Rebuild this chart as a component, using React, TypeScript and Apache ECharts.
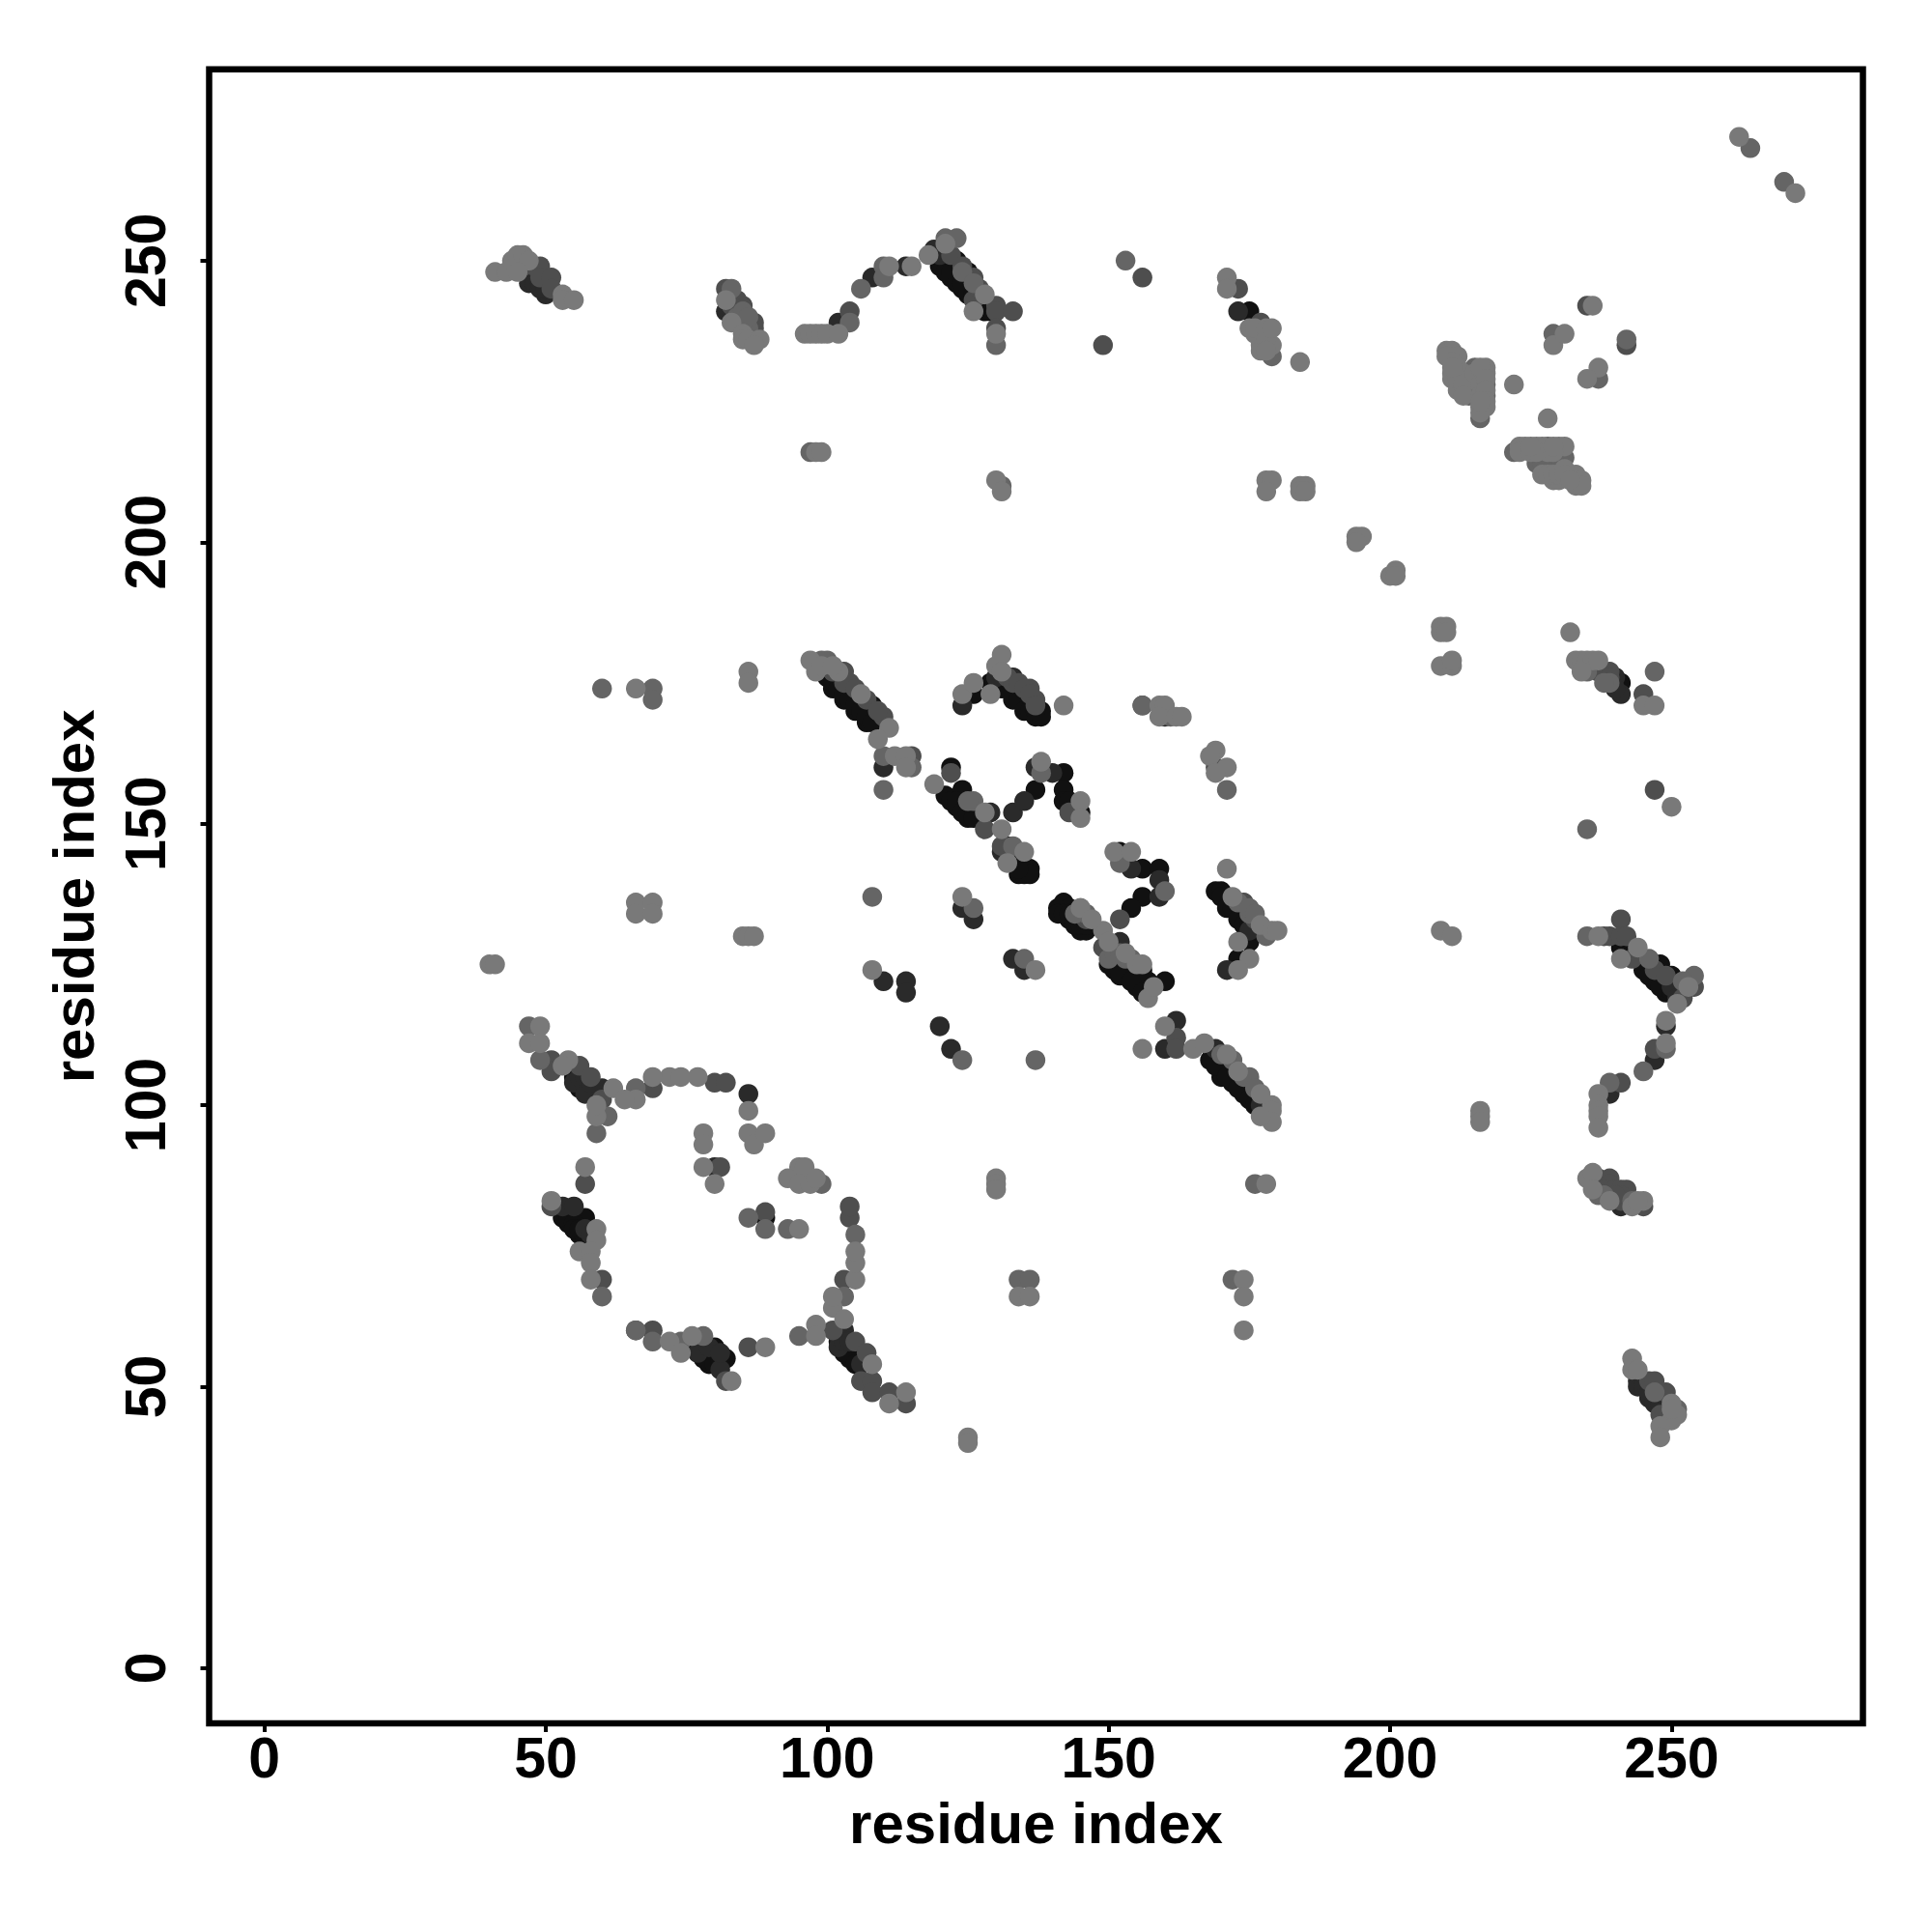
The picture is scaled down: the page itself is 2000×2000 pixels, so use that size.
import React, { useEffect, useRef } from "react";
import * as echarts from "echarts";

const tickValues = [0, 50, 100, 150, 200, 250];
const axisLabelText = "residue index";

const shadeBlack = [[54,79],[57,80],[56,77],[82,55],[80,57],[79,54],[104,55],[101,174],[103,172],[105,170],[107,168],[108,171],[126,173],[133,173],[135,171],[137,169],[138,170],[138,169],[129,175],[122,160],[121,155],[123,153],[125,151],[124,156],[137,156],[142,159],[142,156],[142,154],[143,154],[145,152],[132,146],[134,143],[136,142],[134,141],[135,141],[152,145],[156,142],[159,142],[156,137],[154,135],[141,135],[142,136],[141,134],[143,135],[143,133],[145,131],[144,132],[146,131],[150,125],[153,123],[156,124],[155,121],[157,122],[160,122],[168,108],[171,108],[170,105],[172,104],[174,102],[169,138],[170,138],[171,136],[173,134],[175,129],[173,126],[175,241],[120,249],[122,247],[123,250],[124,245],[125,248],[128,241],[241,175],[241,128],[243,128],[245,126],[245,124],[248,125],[247,122],[250,123],[249,120],[89,80],
[100,176],[101,175],[102,174],[103,173],[104,172],[105,171],[106,170],[107,169],[108,168],[130,175],[131,174],[132,174],[133,172],[134,172],[135,170],[136,170],[137,170],[122,154],[123,154],[124,152],[125,152],[126,151],[132,145],[133,144],[133,145],[135,142],[136,141],[134,142],[142,134],[143,134],[144,133],[145,132],[146,132],[151,124],[152,123],[154,122],[156,120],[169,107],[171,105],[173,103],[175,101],[176,100],[170,137],[171,135],[172,135],[173,133],[174,132],[175,132],[176,131],[53,80],[54,80],[55,79],[55,78],[56,78],[57,76],[55,105],[56,103],[57,103],[58,102],[77,57],[78,56],[78,55],[79,55],[80,54],[81,54],[81,55],[102,58],[103,56],[104,56],[105,54],[121,248],[122,248],[123,246],[124,246],[125,244],[126,244],[127,243],[128,242],[129,241],[244,126],[246,125],[246,123],[248,123],[248,121],[250,120]];
const shadeDark = [[55,104],[57,102],[60,103],[86,102],[80,89],[53,82],[55,82],[77,56],[81,53],[103,60],[102,57],[120,114],[122,110],[110,160],[124,171],[130,176],[133,176],[129,152],[133,152],[135,154],[137,160],[140,159],[131,145],[154,142],[159,140],[159,137],[124,135],[126,133],[110,122],[114,122],[114,120],[133,126],[135,124],[152,129],[160,110],[162,115],[169,110],[175,131],[171,124],[47,246],[50,244],[46,248],[82,241],[85,239],[102,239],[108,247],[114,249],[119,252],[120,251],[173,241],[241,173],[249,114],[247,108],[239,102],[238,86],[241,82],[244,51],[244,50],[246,48],[249,47],[251,121],[250,121],[160,169],
[57,78],[58,77],[56,105],[57,105],[58,104],[79,57],[81,56],[102,59],[103,58],[104,58],[106,54],[47,247],[48,247],[48,246],[49,245],[49,246],[50,245],[245,50],[245,51],[246,49],[247,48],[247,47],[248,47],[240,176],[240,174],[178,99],[177,100],[251,119]];
const shadeMidDark = [[51,108],[51,106],[56,107],[58,105],[60,101],[69,103],[80,104],[82,104],[81,89],[57,86],[51,82],[60,69],[66,60],[69,60],[82,51],[86,57],[101,60],[105,58],[107,56],[106,51],[108,51],[108,49],[111,49],[114,47],[103,69],[104,80],[104,82],[89,81],[110,169],[104,175],[115,162],[136,174],[137,172],[122,159],[128,149],[131,146],[143,152],[152,133],[146,133],[149,128],[162,112],[162,110],[174,136],[176,133],[173,245],[177,239],[46,249],[48,249],[49,249],[49,247],[51,247],[51,245],[82,245],[85,242],[84,241],[87,239],[87,237],[104,241],[122,251],[126,243],[130,242],[130,241],[130,238],[133,241],[156,247],[149,235],[235,242],[169,160],[156,171],[245,173],[238,177],[239,177],[237,177],[247,156],[241,133],[238,130],[239,130],[241,130],[242,130],[243,126],[247,124],[252,119],[254,121],[247,110],[241,104],[237,87],[237,86],[239,87],[239,86],[238,85],[240,85],[241,85],[242,85],[242,83],[245,82],[246,51],[247,51],[249,49],[248,45],[214,228],[215,227],[226,215],[228,215],[228,213],[242,235],
[101,177],[103,177],[103,175],[105,174],[107,172],[109,170],[132,176],[133,175],[134,175],[135,174],[136,173],[137,171],[124,249],[126,247],[127,245],[87,238],[84,243],[83,242],[241,84],[241,83],[240,84],[249,123],[239,176]];
const shadeMid = [[47,114],[49,108],[59,95],[66,103],[61,98],[86,80],[89,78],[66,60],[69,58],[74,58],[60,66],[78,59],[95,59],[103,66],[99,86],[93,78],[105,77],[97,216],[100,179],[99,179],[104,239],[106,245],[110,249],[110,247],[121,254],[123,254],[124,248],[126,246],[130,235],[110,162],[108,137],[110,156],[115,160],[126,154],[125,154],[126,135],[135,126],[133,146],[138,159],[145,135],[154,126],[153,126],[161,169],[160,138],[152,143],[175,134],[178,130],[171,156],[156,171],[131,210],[179,233],[229,237],[242,236],[237,229],[215,231],[215,229],[217,228],[217,226],[216,222],[215,228],[214,226],[222,216],[228,217],[231,215],[226,214],[230,213],[235,130],[246,126],[254,123],[247,177],[239,175],[238,175],[235,177],[249,110],[245,106],[239,104],[251,46],[247,49],[264,270],[270,264],[60,174],[69,174],[69,172],[153,250],[235,149],[176,86],[172,69],[134,69],[136,69],[137,108],[124,108],[83,245],
[170,109],[172,108],[174,105],[175,105],[176,103],[173,136],[175,135],[176,134],[150,126],[151,127],[152,127],[144,134],[146,134],[214,230],[216,229],[216,227],[227,216],[229,215],[229,214],[227,214],[237,84],[238,84],[243,83],[84,240],[85,241],[86,238],[86,240],[252,122]];
const shadeSoft = [[47,111],[49,114],[49,111],[54,108],[59,98],[66,101],[62,103],[64,101],[53,107],[57,89],[78,95],[78,93],[78,89],[80,86],[72,105],[74,105],[69,105],[77,105],[86,99],[86,95],[87,93],[89,95],[59,100],[51,83],[59,78],[59,76],[56,74],[58,74],[58,72],[58,69],[72,58],[74,56],[76,59],[89,57],[98,61],[98,59],[101,64],[101,66],[103,62],[108,54],[83,51],[105,69],[105,72],[105,74],[95,89],[96,89],[93,87],[95,86],[97,86],[98,87],[95,78],[114,49],[111,47],[41,248],[43,248],[44,250],[45,251],[46,251],[47,250],[45,248],[53,244],[53,243],[55,243],[82,243],[83,239],[85,237],[85,236],[86,236],[88,236],[87,235],[96,237],[97,237],[98,237],[99,237],[100,237],[102,237],[111,249],[115,249],[118,251],[121,253],[126,241],[128,244],[130,237],[98,216],[99,216],[130,211],[131,209],[171,247],[171,245],[175,238],[179,235],[177,235],[177,234],[184,232],[178,211],[179,211],[178,209],[184,210],[185,210],[184,209],[185,209],[194,201],[195,201],[194,200],[200,194],[201,195],[201,194],[209,185],[210,185],[209,184],[210,184],[232,184],[229,235],[231,237],[237,231],[235,229],[222,228],[228,222],[210,234],[211,234],[210,233],[212,233],[211,230],[211,229],[212,227],[213,230],[217,231],[217,230],[216,224],[217,224],[216,223],[223,217],[224,217],[223,216],[226,217],[227,217],[230,217],[231,217],[227,212],[229,211],[230,211],[233,212],[233,210],[234,211],[234,210],[209,178],[211,178],[211,179],[97,179],[98,177],[102,177],[106,173],[111,167],[109,165],[112,162],[114,162],[114,160],[124,173],[126,175],[129,173],[130,178],[131,180],[131,177],[142,171],[119,157],[128,152],[131,149],[135,145],[132,143],[138,161],[145,154],[145,151],[151,145],[154,145],[124,137],[108,124],[137,124],[145,135],[149,131],[150,129],[157,119],[158,121],[156,110],[160,114],[165,110],[167,111],[173,106],[177,102],[179,100],[179,99],[179,97],[177,98],[172,137],[177,132],[179,131],[180,131],[173,129],[175,126],[173,124],[171,142],[169,163],[168,162],[171,160],[169,159],[159,171],[160,171],[159,169],[162,169],[163,169],[233,179],[234,179],[235,179],[236,179],[237,179],[234,177],[245,171],[247,171],[250,153],[237,130],[241,126],[244,128],[251,118],[253,121],[249,115],[249,111],[237,102],[237,100],[237,99],[237,98],[237,96],[235,87],[236,88],[236,85],[239,83],[243,82],[245,83],[243,55],[243,53],[244,53],[250,47],[251,45],[250,44],[248,43],[248,41],[262,272],[272,262],[125,41],[125,40],[130,87],[130,86],[130,85],[178,86],[134,66],[136,66],[174,69],[174,66],[174,60],[216,99],[216,98],[216,97],[209,131],[211,130],[40,125],[41,125],[66,174],[86,177],[86,175],[66,136],[69,136],[66,134],[69,134],[85,130],[86,130],[87,130],[236,242],
[212,231],[212,229],[213,228],[213,226],[215,230],[216,231],[216,228],[216,226],[217,229],[217,227],[217,225],[216,225],[211,232],[211,231],[225,216],[226,216],[228,216],[229,216],[228,212],[229,212],[230,212],[231,213],[231,212],[232,211],[225,217],[229,217],[176,237],[176,238],[178,238],[178,236],[178,234],[179,238],[244,83],[99,178],[101,178],[171,109],[153,127],[155,125],[156,125],[147,133],[250,46]];

const groups: [number[][], string][] = [
  [shadeBlack, "#111111"],
  [shadeDark, "#2a2a2a"],
  [shadeMidDark, "#4e4e4e"],
  [shadeMid, "#656565"],
  [shadeSoft, "#797979"],
];

export default function App() {
  const ref = useRef<HTMLDivElement>(null);
  useEffect(() => {
    if (!ref.current) return;
    const chart = echarts.init(ref.current, undefined, { renderer: "svg" });
    const font = { fontFamily: "Liberation Sans", fontWeight: "bold" as const, fontSize: 59, color: "#000" };
    const axis = (extra: any) => ({
      type: "value",
      min: -9.8,
      max: 284,
      splitLine: { show: false },
      axisLine: { show: false, onZero: false },
      axisTick: { show: true, length: 9, lineStyle: { color: "#000", width: 4 }, customValues: tickValues },
      name: axisLabelText,
      nameLocation: "middle",
      nameTextStyle: { ...font, fontSize: 60 },
      ...extra,
    });
    chart.setOption({
      animation: false,
      backgroundColor: "#fff",
      grid: { left: 216.5, right: 71.5, top: 71.7, bottom: 216, show: true, borderColor: "#000", borderWidth: 6.5, backgroundColor: "transparent" },
      xAxis: axis({
        nameGap: 73,
        axisLabel: { ...font, margin: 6, customValues: tickValues },
      }),
      yAxis: axis({
        nameGap: 110,
        nameRotate: 90,
        axisLabel: { ...font, margin: 66, rotate: 90, customValues: tickValues, align: "center", verticalAlign: "middle" },
      }),
      series: groups.map(([data, color]) => ({
        type: "scatter",
        data,
        symbol: "circle",
        symbolSize: 20.5,
        itemStyle: { color, opacity: 1 },
        silent: true,
      })),
    });
    return () => chart.dispose();
  }, []);
  return <div ref={ref} style={{ position: "absolute", left: 0, top: 0, width: 2000, height: 2000 }} />;
}
